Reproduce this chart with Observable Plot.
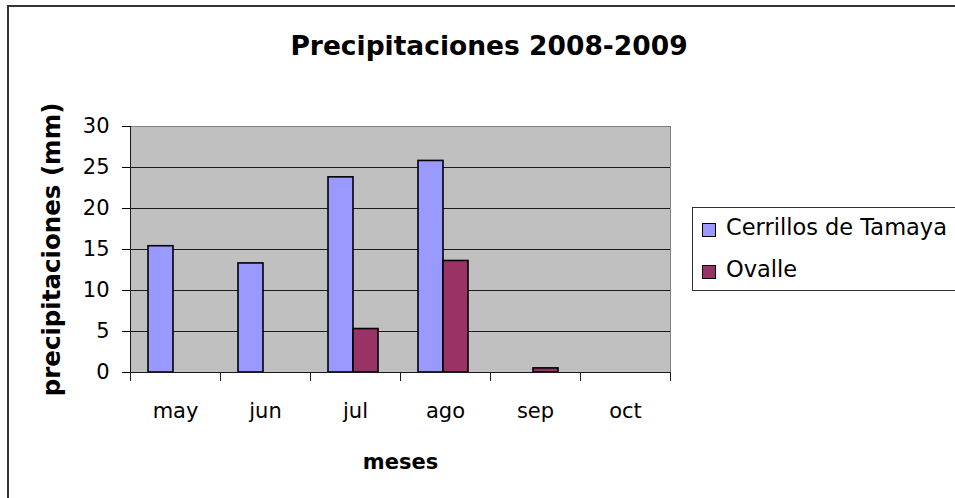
<!DOCTYPE html>
<html><head><meta charset="utf-8">
<script src="https://cdn.jsdelivr.net/npm/d3@7"></script>
<script src="https://cdn.jsdelivr.net/npm/@observablehq/plot@0.6"></script>
<style>
html,body{margin:0;padding:0;background:#fff;}
#wrap{position:relative;width:955px;height:498px;overflow:hidden;font-family:"DejaVu Sans",sans-serif;color:#000;}
#border{position:absolute;left:7px;top:5px;width:1200px;height:1200px;border:2px solid #333;box-sizing:border-box;}
#title{position:absolute;left:0;top:33px;width:978px;text-align:center;font-weight:bold;font-size:26.5px;line-height:1;}
#chart{position:absolute;left:0;top:0;}
#legend{position:absolute;left:692px;top:207px;width:320px;height:84px;border:1px solid #333;box-sizing:border-box;background:#fff;}
.sw{position:absolute;left:9px;width:14px;height:14px;border:1px solid #000;box-sizing:border-box;}
.lt{position:absolute;left:33px;font-size:22.5px;line-height:1;white-space:nowrap;}
g[aria-label="y-axis label"] text{font-weight:bold;font-size:24.5px;}
g[aria-label="fx-axis label"] text{font-weight:bold;}
</style>
</head><body>
<div id="wrap">
  <div id="border"></div>
  <div id="chart"></div>
  <div id="title">Precipitaciones 2008-2009</div>
  <div id="legend"></div>
</div>
<script>
const months = ["may", "jun", "jul", "ago", "sep", "oct"];
const series = ["Cerrillos de Tamaya", "Ovalle"];
const cerrillos = [15.4, 13.3, 23.8, 25.8, 0, 0];
const ovalle = [0, 0, 5.3, 13.6, 0.5, 0];
const colors = ["#9999FF", "#993366"];
const yTicks = [0, 5, 10, 15, 20, 25, 30];

const table = [];
months.forEach((m, i) => {
  table.push({month: m, series: series[0], value: cerrillos[i]});
  table.push({month: m, series: series[1], value: ovalle[i]});
});
const bars = table.filter(d => d.value > 0);
const gridRows = months.flatMap(m => yTicks.filter(v => v > 0 && v < 30).map(v => ({month: m, value: v})));

const chart = Plot.plot({
  width: 955, height: 498,
  marginLeft: 129, marginRight: 284, marginTop: 126, marginBottom: 126,
  style: {background: "transparent", fontFamily: "DejaVu Sans", fontSize: "21px", color: "#000", overflow: "visible"},
  fx: {domain: months, padding: 0},
  x: {domain: series, paddingInner: 0, paddingOuter: 0.737, align: 0.46, axis: null},
  y: {domain: [0, 30]},
  color: {domain: series, range: colors},
  marks: [
    Plot.frame({fill: "#c0c0c0", facet: "super"}),
    Plot.ruleY(gridRows, {fx: "month", y: "value", stroke: "#1a1a1a"}),
    Plot.frame({anchor: "top", stroke: "#808080", facet: "super"}),
    Plot.frame({anchor: "right", stroke: "#808080", facet: "super"}),
    Plot.barY(bars, {fx: "month", x: "series", y: "value", fill: "series", stroke: "#000", strokeWidth: 1.6}),
    Plot.frame({anchor: "bottom", stroke: "#1a1a1a", facet: "super"}),
    Plot.frame({anchor: "left", stroke: "#1a1a1a", insetBottom: -8, facet: "super"}),
    Plot.frame({anchor: "right", stroke: "#1a1a1a", insetTop: 246, insetBottom: -8}),
    Plot.axisY(yTicks, {tickSize: 8, tickPadding: 13, label: "precipitaciones (mm)", labelAnchor: "center", labelOffset: 88, labelArrow: "none"}),
    Plot.axisFx({anchor: "bottom", tickSize: 0, tickPadding: 31, label: "meses", labelAnchor: "center", labelOffset: 96})
  ]
});
document.getElementById("chart").appendChild(chart);

const legend = document.getElementById("legend");
const swTop = [15, 57], txtTop = [8, 50];
series.forEach((s, i) => {
  const sw = document.createElement("div");
  sw.className = "sw"; sw.style.top = swTop[i] + "px"; sw.style.background = colors[i];
  legend.appendChild(sw);
  const t = document.createElement("div");
  t.className = "lt"; t.style.top = txtTop[i] + "px"; t.textContent = s;
  legend.appendChild(t);
});
</script>
</body></html>
